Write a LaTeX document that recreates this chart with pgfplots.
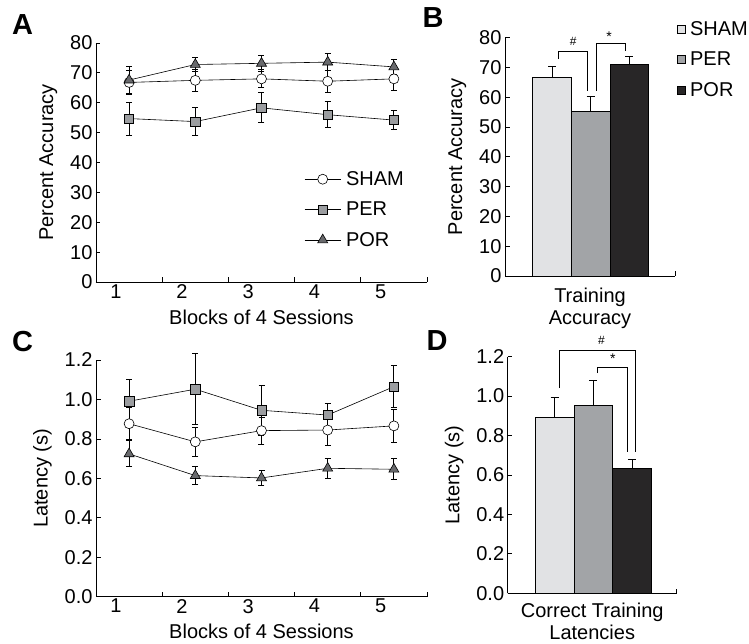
\documentclass[border=0pt]{standalone}
\usepackage{pgfplots}
\pgfplotsset{compat=1.18}
\usepackage{fontspec}
\setmainfont{Liberation Sans}
\definecolor{shamc}{RGB}{225,226,228}
\definecolor{perc}{RGB}{162,164,167}
\definecolor{porc}{RGB}{40,38,39}
\definecolor{perm}{RGB}{155,157,160}
\definecolor{porm}{RGB}{105,106,109}
\newcommand{\fs}{\fontsize{20}{22}\selectfont}
\pgfplotsset{
  myax/.style={scale only axis, axis lines=left, axis line style={-, line width=0.8pt},
    tick style={line width=0.8pt, black}, major tick length=4.5pt, tick align=inside,
    tick label style={font=\fs}, label style={font=\fs}, ylabel style={yshift=6pt},
    /pgf/number format/assume math mode=true, clip=false},
  lineax/.style={myax, xmin=0.5, xmax=5.5, xtick={1.5,2.5,3.5,4.5,5.5}, xticklabels={},
    extra x ticks={0.8,1.8,2.8,3.8,4.8}, extra x tick labels={1,2,3,4,5},
    extra x tick style={major tick length=0pt}, xlabel={Blocks of 4 Sessions},
    xticklabel style={yshift=1pt}, xlabel style={yshift=-4pt},
    legend image code/.code={\draw[mark repeat=2,mark phase=2,#1] plot coordinates {(0pt,0pt)(18pt,0pt)(36pt,0pt)};}},
  eb/.style={error bars/y dir=#1, error bars/y explicit,
    error bars/error bar style={line width=1pt, black},
    error bars/error mark options={rotate=90, mark size=3pt, line width=1pt, black}},
  sham/.style={black, line width=0.6pt, mark=*, mark size=5pt, mark options={fill=white, draw=black, line width=0.6pt}, eb=both},
  per/.style={black, line width=0.6pt, mark=square*, mark size=4.7pt, mark options={fill=perm, draw=black, line width=0.6pt}, eb=both},
  por/.style={black, line width=0.6pt, mark=triangle*, mark size=5.8pt, mark options={fill=porm, draw=black, line width=0.6pt}, eb=both},
  barp/.style={ybar, bar width=1, bar shift=0pt, draw=black, line width=0.6pt, forget plot, eb=plus,
    error bars/error mark options={rotate=90, mark size=4pt, line width=1pt, black}},
}
\begin{document}
\begin{tikzpicture}
\useasboundingbox (0pt,0pt) rectangle (749pt,643pt);
% ---------- A ----------
\begin{axis}[lineax, at={(96pt,361pt)}, anchor=south west, width=331pt, height=239pt,
  ymin=0, ymax=80, ytick={0,10,...,80}, ylabel={Percent Accuracy},
  legend style={at={(rel axis cs:0.62,0.48)}, anchor=north west, draw=none, fill=none, font=\fs, row sep=11pt, column sep=3pt},
  legend cell align=left]
\addplot[sham] coordinates {(1,66.8)+-(0,4.0) (2,67.5)+-(0,3.6) (3,68.0)+-(0,3.0) (4,67.2)+-(0,3.7) (5,68.0)+-(0,4.0)};
\addlegendentry{SHAM}
\addplot[per] coordinates {(1,54.7)+-(0,5.5) (2,53.7)+-(0,4.8) (3,58.3)+-(0,5.0) (4,56.0)+-(0,4.3) (5,54.2)+-(0,3.3)};
\addlegendentry{PER}
\addplot[por] coordinates {(1,67.6)+-(0,4.4) (2,72.8)+-(0,2.2) (3,73.2)+-(0,2.6) (4,73.6)+-(0,2.8) (5,72.0)+-(0,2.5)};
\addlegendentry{POR}
\end{axis}
% ---------- B ----------
\begin{axis}[myax, at={(505pt,367pt)}, anchor=south west, width=170pt, height=238.3pt,
  xmin=-1.22, xmax=3.19, ymin=0, ymax=80, ytick={0,10,...,80}, xtick={3.19}, xticklabels={},
  ylabel={Percent Accuracy}, xlabel={Training\\Accuracy}, xlabel style={align=center, yshift=-2pt},
  legend style={at={(rel axis cs:0.99,1.085)}, anchor=north west, draw=none, fill=none, font=\fs, row sep=11pt, column sep=3pt},
  legend cell align=left]
\addplot[barp, fill=shamc] coordinates {(0,66.7)+-(0,3.5)};
\addplot[barp, fill=perc] coordinates {(1,55.4)+-(0,4.8)};
\addplot[barp, fill=porc] coordinates {(2,71.1)+-(0,2.5)};
\addlegendimage{legend image code/.code={\draw[fill=shamc,draw=black,line width=0.6pt] (0pt,-4pt) rectangle (8pt,4pt);}}
\addlegendentry{SHAM}
\addlegendimage{legend image code/.code={\draw[fill=perc,draw=black,line width=0.6pt] (0pt,-4pt) rectangle (8pt,4pt);}}
\addlegendentry{PER}
\addlegendimage{legend image code/.code={\draw[fill=porc,draw=black,line width=0.6pt] (0pt,-4pt) rectangle (8pt,4pt);}}
\addlegendentry{POR}
\draw[line width=0.7pt] (axis cs:0.16,72.8) -- (axis cs:0.16,75.3) -- (axis cs:0.91,75.3) -- (axis cs:0.91,62.2);
\draw[line width=0.7pt] (axis cs:1.14,62.2) -- (axis cs:1.14,78.1) -- (axis cs:1.9,78.1) -- (axis cs:1.9,75.5);
\node[font=\fontsize{12}{14}\selectfont] at (axis cs:0.55,78.6) {\#};
\node[font=\fontsize{14}{14}\selectfont] at (axis cs:1.48,80.4) {*};
\end{axis}
% ---------- C ----------
\begin{axis}[lineax, at={(96pt,46.3pt)}, anchor=south west, width=331pt, height=236.7pt,
  ymin=0, ymax=1.2, ytick={0,0.2,...,1.2}, ylabel={Latency (s)},
  yticklabel style={/pgf/number format/.cd, fixed, fixed zerofill, precision=1}]
\addplot[sham] coordinates {(1,0.877)+-(0,0.08) (2,0.785)+-(0,0.072) (3,0.842)+-(0,0.068) (4,0.845)+-(0,0.076) (5,0.866)+-(0,0.085)};
\addplot[per] coordinates {(1,0.991)+-(0,0.11) (2,1.052)+-(0,0.18) (3,0.945)+-(0,0.127) (4,0.921)+-(0,0.06) (5,1.065)+-(0,0.105)};
\addplot[por] coordinates {(1,0.724)+-(0,0.066) (2,0.614)+-(0,0.047) (3,0.602)+-(0,0.04) (4,0.651)+-(0,0.05) (5,0.646)+-(0,0.054)};
\end{axis}
% ---------- D ----------
\begin{axis}[myax, at={(507.7pt,49.7pt)}, anchor=south west, width=169pt, height=236.7pt,
  xmin=-1.21, xmax=3.15, ymin=0, ymax=1.2, ytick={0,0.2,...,1.2}, xtick={3.15}, xticklabels={},
  yticklabel style={/pgf/number format/.cd, fixed, fixed zerofill, precision=1},
  ylabel={Latency (s)}, xlabel={Correct Training\\Latencies}, xlabel style={align=center, yshift=1pt}]
\addplot[barp, fill=shamc] coordinates {(0,0.890)+-(0,0.104)};
\addplot[barp, fill=perc] coordinates {(1,0.955)+-(0,0.125)};
\addplot[barp, fill=porc] coordinates {(2,0.632)+-(0,0.044)};
\draw[line width=0.7pt] (axis cs:0.12,1.04) -- (axis cs:0.12,1.234) -- (axis cs:2.09,1.234) -- (axis cs:2.09,0.718);
\draw[line width=0.7pt] (axis cs:1.11,1.116) -- (axis cs:1.11,1.144) -- (axis cs:1.87,1.144) -- (axis cs:1.87,0.718);
\node[font=\fontsize{12}{14}\selectfont] at (axis cs:1.21,1.28) {\#};
\node[font=\fontsize{14}{14}\selectfont] at (axis cs:1.5,1.19) {*};
\end{axis}
% ---------- panel letters ----------
\node[font=\fontsize{29}{30}\selectfont\bfseries] at (22.5pt,618pt) {A};
\node[font=\fontsize{29}{30}\selectfont\bfseries] at (433pt,625.5pt) {B};
\node[font=\fontsize{29}{30}\selectfont\bfseries] at (22.5pt,301pt) {C};
\node[font=\fontsize{29}{30}\selectfont\bfseries] at (437pt,302pt) {D};
\end{tikzpicture}
\end{document}
